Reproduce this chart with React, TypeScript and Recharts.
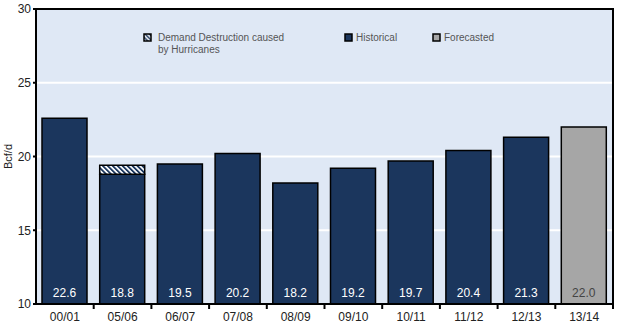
import { BarChart, Bar, XAxis, YAxis, CartesianGrid, LabelList, ReferenceArea } from "recharts";

const seasons = ["00/01", "05/06", "06/07", "07/08", "08/09", "09/10", "10/11", "11/12", "12/13", "13/14"];
const historical = [22.6, 18.8, 19.5, 20.2, 18.2, 19.2, 19.7, 20.4, 21.3, null];
const hurricaneLoss = [null, 0.6, null, null, null, null, null, null, null, null];
const forecasted = [null, null, null, null, null, null, null, null, null, 22.0];
const yTicks = [10, 15, 20, 25, 30];

const NAVY = "#1b365d";
const GREY = "#a6a6a6";
const FONT = "'Liberation Sans', Arial, sans-serif";

const data = seasons.map((s, i) => ({
    season: s,
    historical: historical[i],
    hurricane: hurricaneLoss[i],
    forecasted: forecasted[i],
}));

const XTick = (props: any) => {
    const { x, y, payload } = props;
    const half = payload && payload.offset ? payload.offset : 29;
    return (
        <g>
            <line x1={x + half} x2={x + half} y1={y - 8} y2={y - 3} stroke="#000" strokeWidth={2} />
            <text x={x} y={y + 9} textAnchor="middle" fontSize={12} fill="#222" fontFamily={FONT}>
                {payload.value}
            </text>
        </g>
    );
};

const bottomLabel = (color: string) => (props: any) => {
    const { x, y, width, height, value } = props;
    if (value == null) return null;
    return (
        <text x={x + width / 2} y={y + height - 7} textAnchor="middle" fontSize={12} fill={color} fontFamily={FONT}>
            {Number(value).toFixed(1)}
        </text>
    );
};

// legend sits inside the plot area, drawn as an overlay
const LegendBox = () => (
    <div style={{ position: "absolute", left: 143, top: 32, fontFamily: FONT, fontSize: 10, color: "#555", width: 360, height: 30 }}>
        <svg width={10} height={10} style={{ position: "absolute", left: 0, top: 1 }}>
            <defs>
                <pattern id="hatchSmall" width={3} height={3} patternUnits="userSpaceOnUse" patternTransform="rotate(-45)">
                    <rect width={3} height={3} fill="#ffffff" />
                    <rect width={1.5} height={3} fill={NAVY} />
                </pattern>
            </defs>
            <rect x={1} y={1} width={7} height={7} fill="url(#hatchSmall)" stroke="#000" strokeWidth={1.5} />
        </svg>
        <div style={{ position: "absolute", left: 15, top: 0, lineHeight: "12px", whiteSpace: "nowrap" }}>
            Demand Destruction caused<br />by Hurricanes
        </div>
        <svg width={10} height={10} style={{ position: "absolute", left: 201, top: 1 }}>
            <rect x={1} y={1} width={7} height={7} fill={NAVY} stroke="#000" strokeWidth={1.5} />
        </svg>
        <div style={{ position: "absolute", left: 213, top: 0, lineHeight: "12px" }}>Historical</div>
        <svg width={10} height={10} style={{ position: "absolute", left: 289, top: 1 }}>
            <rect x={1} y={1} width={7} height={7} fill={GREY} stroke="#000" strokeWidth={1.5} />
        </svg>
        <div style={{ position: "absolute", left: 301, top: 0, lineHeight: "12px" }}>Forecasted</div>
    </div>
);

export default function App() {
    return (
        <div style={{ position: "absolute", left: 0, top: 0, width: 620, height: 327 }}>
            <BarChart width={620} height={327} data={data} margin={{ top: 9, right: 7, bottom: 1, left: 0 }} barSize={45}>
                <defs>
                    <pattern id="hatch" width={3.5} height={3.5} patternUnits="userSpaceOnUse" patternTransform="rotate(-45)">
                        <rect width={3.5} height={3.5} fill="#ffffff" />
                        <rect width={1.8} height={3.5} fill={NAVY} />
                    </pattern>
                </defs>
                <CartesianGrid vertical={false} stroke="#ffffff" strokeWidth={2} fill="#dfe8f5" />
                <XAxis
                    dataKey="season"
                    height={22}
                    axisLine={{ stroke: "#000", strokeWidth: 2 }}
                    tickLine={false}
                    tick={<XTick />}
                    interval={0}
                />
                <YAxis
                    domain={[10, 30]}
                    ticks={yTicks}
                    width={36}
                    allowDataOverflow
                    axisLine={{ stroke: "#000", strokeWidth: 2 }}
                    tickLine={{ stroke: "#000", strokeWidth: 2 }}
                    tickSize={3}
                    tick={{ fontSize: 12, fill: "#222", fontFamily: FONT }}
                    label={{ value: "Bcf/d", angle: -90, position: "insideLeft", offset: 8, style: { fontSize: 11, fill: "#222", fontFamily: FONT, textAnchor: "middle" } }}
                />
                <ReferenceArea y1={10} y2={30} fill="none" stroke="#000" strokeWidth={2} ifOverflow="visible" />
                <Bar dataKey="historical" stackId="a" fill={NAVY} stroke="#000" strokeWidth={1.5} isAnimationActive={false}>
                    <LabelList dataKey="historical" content={bottomLabel("#ffffff")} />
                </Bar>
                <Bar dataKey="hurricane" stackId="a" fill="url(#hatch)" stroke="#000" strokeWidth={1.5} isAnimationActive={false} />
                <Bar dataKey="forecasted" stackId="a" fill={GREY} stroke="#000" strokeWidth={1.5} isAnimationActive={false}>
                    <LabelList dataKey="forecasted" content={bottomLabel("#444")} />
                </Bar>
            </BarChart>
            <LegendBox />
        </div>
    );
}
